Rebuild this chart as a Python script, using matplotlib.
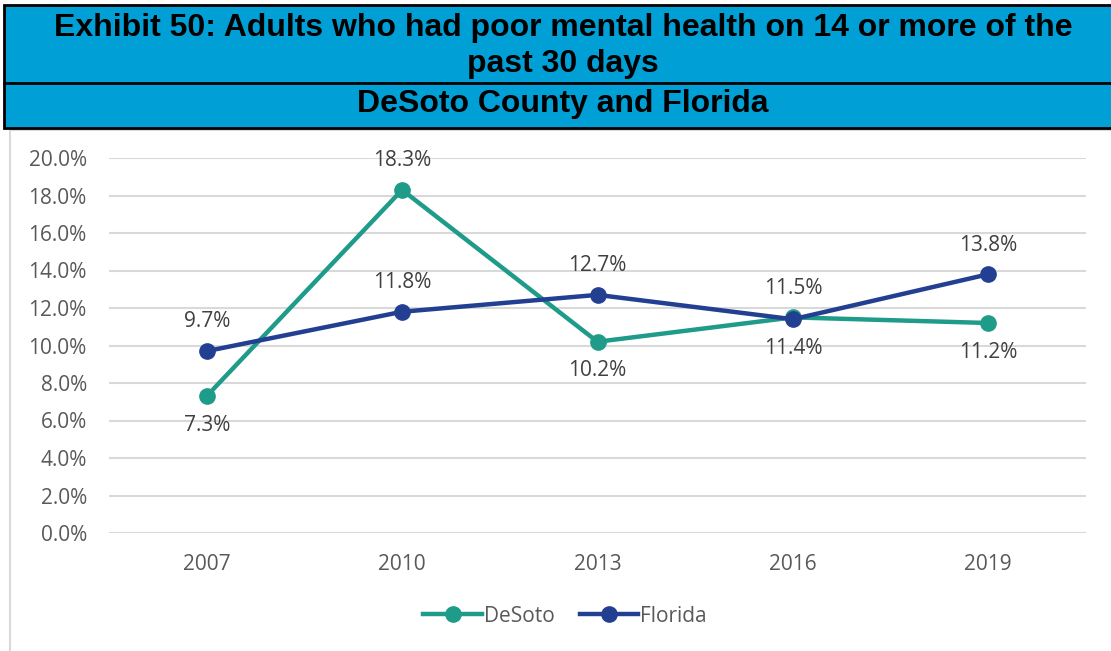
import matplotlib.pyplot as plt
from matplotlib.patches import Rectangle
from matplotlib.lines import Line2D
from matplotlib.ticker import FuncFormatter

years = ["2007", "2010", "2013", "2016", "2019"]
desoto = [7.3, 18.3, 10.2, 11.5, 11.2]
florida = [9.7, 11.8, 12.7, 11.4, 13.8]
# label placement per point: +1 above the marker, -1 below
desoto_pos = [-1, 1, -1, 1, -1]
florida_pos = [1, 1, 1, -1, 1]

TEAL = "#1F9B8A"
NAVY = "#233F91"
HEADER = "#009FD6"
GREY_TXT = "#595959"

W, H = 1111, 651
fig = plt.figure(figsize=(W / 100, H / 100), dpi=100)
fig.patch.set_facecolor("white")


def px(x, y):
    # pixel coords (top-left origin) -> figure fraction
    return x / W, 1 - y / H


# chart area frame
x0, y0 = px(10, 130)
fig.add_artist(Rectangle((x0, -0.01), 1.0, y0 + 0.01, transform=fig.transFigure,
                         facecolor="white", edgecolor="#D9D9D9", lw=1.5, zorder=-5))

# header banner
hx, htop = px(4, 5)
_, hmid = px(0, 83)
_, hbot = px(0, 128)
fig.add_artist(Rectangle((hx, hbot), 1.0, htop - hbot, transform=fig.transFigure,
                         facecolor=HEADER, edgecolor="black", lw=2))
fig.add_artist(Line2D([hx, 1.0], [hmid, hmid], transform=fig.transFigure,
                      color="black", lw=2))

title_font = dict(family="Liberation Sans", weight="bold", fontsize=23,
                  color="black", ha="center", va="center")
fig.text(*px(563, 28), "Exhibit 50: Adults who had poor mental health on 14 or more of the",
         **title_font)
fig.text(*px(563, 64), "past 30 days", **title_font)
fig.text(*px(563, 104), "DeSoto County and Florida", **title_font)

# plot area
left, top = px(109, 158)
right, bottom = px(1086, 533)
ax = fig.add_axes([left, bottom, right - left, top - bottom])
ax.patch.set_alpha(0)
ax.set_xlim(-0.5, len(years) - 0.5)
ax.set_ylim(0, 20)
ax.set_yticks(range(0, 21, 2))
ax.yaxis.set_major_formatter(FuncFormatter(lambda v, _: f"{v:.1f}%"))
ax.set_xticks(range(len(years)))
ax.set_xticklabels(years)
ax.grid(axis="y", color="#D9D9D9", lw=1.5)
ax.set_axisbelow(True)
for s in ax.spines.values():
    s.set_visible(False)
ax.tick_params(length=0, labelsize=15, labelcolor=GREY_TXT)
ax.tick_params(axis="y", pad=16)
ax.tick_params(axis="x", pad=15)
for lab in ax.get_xticklabels() + ax.get_yticklabels():
    lab.set_family("Open Sans")

xs = range(len(years))
ax.plot(xs, desoto, color=TEAL, lw=3.2, marker="o", ms=11, label="DeSoto",
        clip_on=False, zorder=3)
ax.plot(xs, florida, color=NAVY, lw=3.2, marker="o", ms=11, label="Florida",
        clip_on=False, zorder=4)

for series, where in ((desoto, desoto_pos), (florida, florida_pos)):
    for i, (v, p) in enumerate(zip(series, where)):
        ax.annotate(f"{v:.1f}%", (i, v), xytext=(0, 21 * p), textcoords="offset points",
                    ha="center", va="center", fontsize=15, color="#404040",
                    family="Open Sans")

leg = fig.legend(*ax.get_legend_handles_labels(), loc="center",
                 bbox_to_anchor=px(565, 616), ncol=2, frameon=False,
                 handlelength=2.8, columnspacing=1.2, handletextpad=0.1,
                 prop=dict(family="Open Sans", size=15))
for t in leg.get_texts():
    t.set_color(GREY_TXT)

fig.savefig("out.png", dpi=100)
